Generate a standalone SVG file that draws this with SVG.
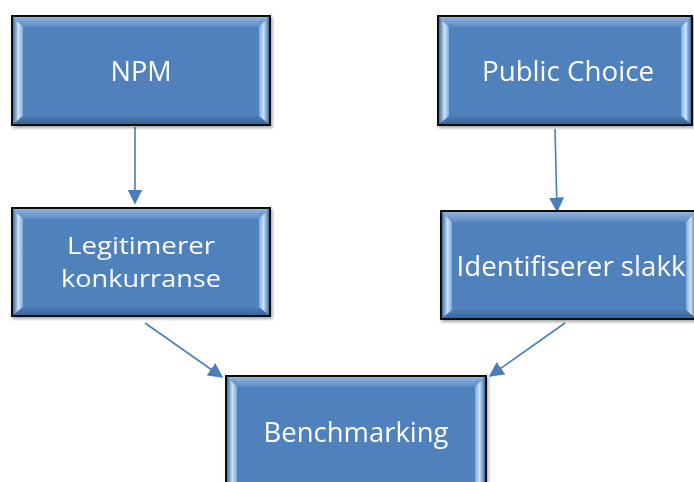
<svg xmlns="http://www.w3.org/2000/svg" width="694" height="482" viewBox="0 0 694 482">
  <defs>
    <linearGradient id="bevelL" x1="0" y1="0" x2="1" y2="0">
      <stop offset="0" stop-color="#3f6ea6"/>
      <stop offset="0.55" stop-color="#c9e2f8"/>
      <stop offset="1" stop-color="#7ea9d8"/>
    </linearGradient>
    <linearGradient id="bevelR" x1="1" y1="0" x2="0" y2="0">
      <stop offset="0" stop-color="#3f6ea6"/>
      <stop offset="0.55" stop-color="#c9e2f8"/>
      <stop offset="1" stop-color="#7ea9d8"/>
    </linearGradient>
    <linearGradient id="bevelT" x1="0" y1="0" x2="0" y2="1">
      <stop offset="0" stop-color="#8fb3dc"/>
      <stop offset="1" stop-color="#5a8ac4"/>
    </linearGradient>
    <linearGradient id="bevelB" x1="0" y1="1" x2="0" y2="0">
      <stop offset="0" stop-color="#3a6598"/>
      <stop offset="1" stop-color="#4d7cb6"/>
    </linearGradient>
    <filter id="shadow" x="-5%" y="-5%" width="112%" height="115%">
      <feDropShadow dx="1.5" dy="2" stdDeviation="1.5" flood-color="#000" flood-opacity="0.35"/>
    </filter>
    <marker id="arrow" viewBox="0 0 10 10" refX="9" refY="5" markerWidth="15" markerHeight="15" orient="auto" markerUnits="userSpaceOnUse">
      <path d="M0,0 L10,5 L0,10 z" fill="#4a7ebb"/>
    </marker>
  </defs>
  <style>
    .frame { fill: #4f81bd; stroke: #111; stroke-width: 2; }
    .label { font-family: "Open Sans", "Liberation Sans", sans-serif; font-size: 27px; fill: #ffffff; text-anchor: middle; }
    .label.two { font-size: 24px; }
    .conn { stroke: #4a7ebb; stroke-width: 1.6; fill: none; marker-end: url(#arrow); }
  </style>

  <rect width="694" height="482" fill="#ffffff"/>

  <g id="connectors">
    <line class="conn" x1="135" y1="127" x2="135" y2="203"/>
    <line class="conn" x1="555" y1="129" x2="557" y2="211"/>
    <line class="conn" x1="145" y1="323" x2="222" y2="377"/>
    <line class="conn" x1="565" y1="323" x2="490" y2="376"/>
  </g>

  <g id="node-npm" filter="url(#shadow)">
    <rect class="frame" x="12" y="16" width="258" height="109"/>
    <polygon points="13,17 269,17 259,27 23,27" fill="url(#bevelT)"/>
    <polygon points="13,124 269,124 259,116 23,116" fill="url(#bevelB)"/>
    <polygon points="13,17 23,27 23,116 13,124" fill="url(#bevelL)"/>
    <polygon points="269,17 259,27 259,116 269,124" fill="url(#bevelR)"/>
    <text class="label" x="141" y="81" textLength="61" lengthAdjust="spacingAndGlyphs">NPM</text>
  </g>

  <g id="node-public-choice" filter="url(#shadow)">
    <rect class="frame" x="438" y="16" width="254" height="109"/>
    <polygon points="439,17 691,17 681,27 449,27" fill="url(#bevelT)"/>
    <polygon points="439,124 691,124 681,116 449,116" fill="url(#bevelB)"/>
    <polygon points="439,17 449,27 449,116 439,124" fill="url(#bevelL)"/>
    <polygon points="691,17 681,27 681,116 691,124" fill="url(#bevelR)"/>
    <text class="label" x="568" y="81" textLength="172" lengthAdjust="spacingAndGlyphs">Public Choice</text>
  </g>

  <g id="node-legitimerer" filter="url(#shadow)">
    <rect class="frame" x="12" y="208" width="258" height="108"/>
    <polygon points="13,209 269,209 259,219 23,219" fill="url(#bevelT)"/>
    <polygon points="13,315 269,315 259,307 23,307" fill="url(#bevelB)"/>
    <polygon points="13,209 23,219 23,307 13,315" fill="url(#bevelL)"/>
    <polygon points="269,209 259,219 259,307 269,315" fill="url(#bevelR)"/>
    <text class="label two" x="141" y="254" textLength="148" lengthAdjust="spacingAndGlyphs">Legitimerer</text>
    <text class="label two" x="141" y="287" textLength="160" lengthAdjust="spacingAndGlyphs">konkurranse</text>
  </g>

  <g id="node-identifiserer" filter="url(#shadow)">
    <rect class="frame" x="441" y="211" width="256" height="108"/>
    <polygon points="442,212 696,212 686,222 452,222" fill="url(#bevelT)"/>
    <polygon points="442,318 696,318 686,310 452,310" fill="url(#bevelB)"/>
    <polygon points="442,212 452,222 452,310 442,318" fill="url(#bevelL)"/>
    <polygon points="696,212 686,222 686,310 696,318" fill="url(#bevelR)"/>
    <text class="label" x="571" y="276" textLength="229" lengthAdjust="spacingAndGlyphs">Identifiserer slakk</text>
  </g>

  <g id="node-benchmarking" filter="url(#shadow)">
    <rect class="frame" x="226" y="376" width="260" height="110"/>
    <polygon points="227,377 485,377 475,387 237,387" fill="url(#bevelT)"/>
    <polygon points="227,377 237,387 237,486 227,486" fill="url(#bevelL)"/>
    <polygon points="485,377 475,387 475,486 485,486" fill="url(#bevelR)"/>
    <text class="label" x="356" y="442" textLength="185" lengthAdjust="spacingAndGlyphs">Benchmarking</text>
  </g>
</svg>
